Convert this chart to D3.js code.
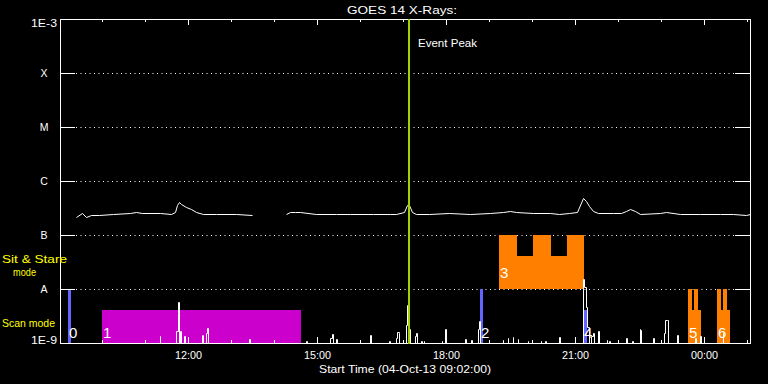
<!DOCTYPE html>
<html><head><meta charset="utf-8">
<script src="https://cdn.jsdelivr.net/npm/d3@7"></script>
<style>
html,body{margin:0;padding:0;background:#000;}
svg{display:block;}
</style></head><body>
<svg id="chart" width="768" height="384"></svg>
<script>
// ---------------- data ----------------
const chartTitle = "GOES 14 X-Rays:";
const startTimeLabel = "Start Time (04-Oct-13 09:02:00)";
const plotStart = "09:02";
const plotEnd = "01:04";
const yTickValues = [1e-9, 1e-8, 1e-7, 1e-6, 1e-5, 1e-4, 1e-3];
const yTickLabels = ["1E-9", "A", "B", "C", "M", "X", "1E-3"];
const gridLevels = [1e-8, 1e-7, 1e-6, 1e-5, 1e-4];
const xLabelTimes = ["12:00", "15:00", "18:00", "21:00", "00:00"];
const modeLabels = ["Sit & Stare", "mode", "Scan mode"];
const eventPeakTime = "17:08";
const eventPeakLabel = "Event Peak";

// GOES long channel (1-8 A) flux, W/m^2 (null = data gap)
const fluxTimes = ["09:25","09:32","09:38","09:45","09:57","10:16","10:39","10:48","10:57","11:21","11:37","11:42","11:45","11:48","11:51","11:58","12:05","12:12","12:21","12:40","13:08","13:29","13:50","14:17","14:22","14:29","14:36","14:59","15:27","15:46","16:18","16:42","16:51","17:02","17:06","17:09","17:13","17:19","17:37","18:05","18:33","19:01","19:19","19:29","19:38","20:01","20:25","20:38","20:52","21:03","21:11","21:16","21:20","21:25","21:32","21:53","22:04","22:11","22:17","22:23","22:30","22:58","23:07","23:26","23:54","00:22","00:40","00:59","01:04"];
const fluxValues = [2.17e-7,2.58e-7,2.17e-7,2.30e-7,2.37e-7,2.47e-7,2.53e-7,2.69e-7,2.61e-7,2.53e-7,2.43e-7,2.69e-7,3.67e-7,4.12e-7,3.83e-7,3.33e-7,2.97e-7,2.69e-7,2.47e-7,2.40e-7,2.43e-7,2.37e-7,null,2.42e-7,2.69e-7,2.72e-7,2.64e-7,2.50e-7,2.43e-7,2.47e-7,2.43e-7,2.40e-7,2.50e-7,2.69e-7,3.56e-7,3.56e-7,2.64e-7,2.47e-7,2.43e-7,2.53e-7,2.50e-7,2.53e-7,2.69e-7,2.76e-7,2.69e-7,2.58e-7,2.58e-7,2.47e-7,2.53e-7,2.72e-7,4.89e-7,4.23e-7,3.41e-7,2.76e-7,2.58e-7,2.58e-7,2.58e-7,2.84e-7,3.06e-7,2.76e-7,2.50e-7,2.53e-7,2.64e-7,2.43e-7,2.47e-7,2.43e-7,2.40e-7,2.33e-7,2.50e-7];

// GOES short channel (0.5-4 A) spikes above the 1E-9 floor, W/m^2
const shortTimes = ["11:21","11:44","11:46","11:47","11:50","11:55","12:20","12:25","12:27","13:26","14:45","15:19","15:21","15:27","16:14","16:41","16:51","16:52","16:54","17:05","17:06","17:09","17:17","17:19","17:26","17:29","17:54","17:59","18:27","18:35","18:45","18:46","19:19","19:26","19:33","19:40","19:54","20:12","20:18","20:38","21:11","21:13","21:15","21:17","21:19","21:23","21:25","21:32","21:44","21:48","22:11","22:20","22:30","22:31","22:49","23:04","23:06","23:08","23:22","23:48","23:54","00:26"];
const shortValues = [1.34e-9,1.65e-9,3.67e-9,5.79e-9,1.65e-9,1.34e-9,1.38e-9,1.50e-9,1.86e-9,1.21e-9,1.11e-9,1.26e-9,1.44e-9,1.21e-9,1.38e-9,1.11e-9,1.26e-9,1.58e-9,1.54e-9,2.20e-9,4.95e-9,1.78e-9,1.34e-9,1.50e-9,1.11e-9,1.11e-9,1.07e-9,1.83e-9,1.20e-9,1.16e-9,1.78e-9,2.53e-9,1.16e-9,1.25e-9,1.28e-9,1.20e-9,1.07e-9,1.07e-9,1.07e-9,1.30e-9,1.56e-8,1.07e-8,4.74e-9,2.02e-9,1.65e-9,1.34e-9,1.54e-9,1.65e-9,1.16e-9,1.11e-9,1.25e-9,1.11e-9,1.83e-9,1.73e-9,1.25e-9,1.54e-9,2.72e-9,2.72e-9,1.38e-9,1.26e-9,1.34e-9,1.54e-9];

// Observation blocks: id, program, base level, [start, end, top level] steps
const blockLabels = ["0", "1", "2", "3", "4", "5", "6"];
const blockPrograms = ["p1", "p2", "p1", "p3", "p1", "p3", "p3"];
const blockBase = [1e-9, 1e-9, 1e-9, 1e-8, 1e-9, 1e-9, 1e-9];
const blockSteps = [
  [["09:12:30", "09:17", 1e-8]],
  [["10:00", "14:38", 4.1e-9]],
  [["18:47:30", "18:51:30", 1e-8]],
  [["19:14", "19:39", 1e-7], ["19:39", "20:01:30", 4.1e-8], ["20:01:30", "20:26:30", 1e-7], ["20:26:30", "20:49", 4.1e-8], ["20:49", "21:12:30", 1e-7]],
  [["21:11", "21:16:40", 4.1e-9]],
  [["23:37:30", "23:43", 1e-8], ["23:43", "23:46:30", 4.1e-9], ["23:46:30", "23:51:30", 1e-8], ["23:51:30", "23:55:30", 4.1e-9]],
  [["00:18", "00:23:30", 1e-8], ["00:23:30", "00:26:30", 4.1e-9], ["00:26:30", "00:32", 1e-8], ["00:32", "00:36", 4.1e-9]]
];

// ---------------- drawing ----------------
const FONT = "'Liberation Sans', Arial, sans-serif";
const programColor = {p1: "#6464ff", p2: "#cc00cc", p3: "#ff8000"};

function toDate(s) {
  const p = s.split(":").map(Number);
  let mins = p[0] * 60 + p[1] + (p[2] || 0) / 60;
  if (mins < 542) mins += 1440;               // after midnight -> next day
  return new Date(new Date(2013, 9, 4).getTime() + mins * 60000);
}

const svg = d3.select("#chart");
svg.append("rect").attr("width", 768).attr("height", 384).attr("fill", "#000");

const t0 = toDate(plotStart), t1 = toDate(plotEnd);
const x = d3.scaleTime().domain([t0, t1]).range([60, 750]).interpolate(d3.interpolateRound);
const y = d3.scaleLog().domain([1e-9, 1e-3]).range([343, 19]).interpolate(d3.interpolateRound);
const X0 = x.range()[0], X1 = x.range()[1];
const tickLen = 15;

// dotted grid
svg.append("g").selectAll("line").data(gridLevels).join("line")
  .attr("x1", X0 + tickLen + 1).attr("x2", X1 - tickLen)
  .attr("y1", d => y(d) + 0.5).attr("y2", d => y(d) + 0.5)
  .attr("stroke", "#fff").attr("stroke-width", 1).attr("stroke-dasharray", "1,3.5");

// observation blocks
const gBlocks = svg.append("g").attr("shape-rendering", "crispEdges");
blockSteps.forEach((steps, i) => {
  gBlocks.append("g").selectAll("rect").data(steps).join("rect")
    .attr("x", s => x(toDate(s[0])))
    .attr("width", s => x(toDate(s[1])) - x(toDate(s[0])))
    .attr("y", s => y(s[2]))
    .attr("height", s => y(blockBase[i]) - y(s[2]))
    .attr("fill", programColor[blockPrograms[i]]);
});

// short channel spikes (histogram style)
const shortPts = [{t: t0, v: 1e-9}];
shortTimes.forEach((s, i) => {
  const t = toDate(s);
  shortPts.push({t, v: shortValues[i]});
  const next = i < shortTimes.length - 1 ? toDate(shortTimes[i + 1]) : null;
  if (!next || (next - t) > 2.5 * 60000) shortPts.push({t: new Date(+t + 60000), v: 1e-9});
});
shortPts.push({t: t1, v: 1e-9});
svg.append("path").datum(shortPts)
  .attr("transform", "translate(0.5,0.5)")
  .attr("d", d3.line().x(d => x(d.t)).y(d => y(d.v)).curve(d3.curveStepAfter))
  .attr("fill", "none").attr("stroke", "#fff").attr("stroke-width", 1);

// long channel flux
const fluxPts = fluxTimes.map((s, i) => ({t: toDate(s), v: fluxValues[i]}));
svg.append("path").datum(fluxPts)
  .attr("transform", "translate(0.5,0.5)")
  .attr("d", d3.line().defined(d => d.v != null).x(d => x(d.t)).y(d => y(d.v)))
  .attr("fill", "none").attr("stroke", "#fff").attr("stroke-width", 1);

// block labels
svg.append("g").selectAll("text").data(blockLabels).join("text")
  .attr("x", (d, i) => x(toDate(blockSteps[i][0][0])) + 1)
  .attr("y", (d, i) => y(blockBase[i]) - (blockBase[i] > 1e-9 ? 11 : 5))
  .attr("fill", "#fff").attr("font-family", FONT).attr("font-size", 15)
  .text(d => d);

// axes
function styleAxis(g) {
  g.attr("color", "#fff").attr("font-family", FONT).attr("font-size", 10.5)
   .attr("shape-rendering", "crispEdges");
}
const hourTicks = d3.timeHour.range(d3.timeHour.ceil(t0), t1);
const majorTicks = xLabelTimes.map(toDate);

svg.append("g").attr("transform", `translate(0,${y(1e-9)})`)
  .call(d3.axisBottom(x).tickValues(hourTicks).tickSizeInner(-3).tickSizeOuter(0).tickFormat(""))
  .call(styleAxis);
svg.append("g").attr("transform", `translate(0,${y(1e-9)})`)
  .call(d3.axisBottom(x).tickValues(majorTicks).tickSizeInner(-6).tickSizeOuter(0).tickPadding(8.5)
        .tickFormat((d, i) => xLabelTimes[i]))
  .call(styleAxis)
  .call(g => g.selectAll("text").attr("textLength", 27).attr("lengthAdjust", "spacingAndGlyphs"));
svg.append("g").attr("transform", `translate(0,${y(1e-3)})`)
  .call(d3.axisTop(x).tickValues(hourTicks).tickSizeInner(-3).tickSizeOuter(0).tickFormat(""))
  .call(styleAxis);
svg.append("g").attr("transform", `translate(0,${y(1e-3)})`)
  .call(d3.axisTop(x).tickValues(majorTicks).tickSizeInner(-6).tickSizeOuter(0).tickFormat(""))
  .call(styleAxis);

svg.append("g").attr("transform", `translate(${X0},0)`)
  .call(d3.axisLeft(y).tickValues(yTickValues).tickSizeInner(-tickLen).tickSizeOuter(0)
        .tickFormat((d, i) => yTickLabels[i]))
  .call(styleAxis)
  .call(g => g.selectAll("text")
    .attr("x", -16).attr("text-anchor", "middle")
    .attr("dy", d => d === 1e-3 ? "0.74em" : d === 1e-9 ? "0em" : "0.32em")
    .each(function(d) { if (d === 1e-3 || d === 1e-9) d3.select(this).attr("textLength", 26).attr("lengthAdjust", "spacingAndGlyphs"); }));
svg.append("g").attr("transform", `translate(${X1},0)`)
  .call(d3.axisRight(y).tickValues(yTickValues).tickSizeInner(-tickLen).tickSizeOuter(0).tickFormat(""))
  .call(styleAxis);

// event peak
const xe = x(toDate(eventPeakTime));
svg.append("line").attr("x1", xe).attr("x2", xe).attr("y1", y(1e-3)).attr("y2", y(1e-9) + 1)
  .attr("stroke", "#a0d400").attr("stroke-width", 2).attr("shape-rendering", "crispEdges");
svg.append("text").attr("x", xe + 9).attr("y", 47)
  .attr("fill", "#fff").attr("font-family", FONT).attr("font-size", 11.5)
  .attr("textLength", 59).attr("lengthAdjust", "spacingAndGlyphs").text(eventPeakLabel);

// titles
svg.append("text").attr("x", (X0 + X1) / 2 - 3).attr("y", 13.5).attr("text-anchor", "middle")
  .attr("fill", "#fff").attr("font-family", FONT).attr("font-size", 11.5)
  .attr("textLength", 110).attr("lengthAdjust", "spacingAndGlyphs").text(chartTitle);
svg.append("text").attr("x", (X0 + X1) / 2).attr("y", 372.5).attr("text-anchor", "middle")
  .attr("fill", "#fff").attr("font-family", FONT).attr("font-size", 11)
  .attr("textLength", 172).attr("lengthAdjust", "spacingAndGlyphs").text(startTimeLabel);

// mode labels (yellow)
const modeText = svg.append("g").attr("fill", "#ffff00").attr("font-family", FONT).attr("font-size", 11);
modeText.append("text").attr("x", 2).attr("y", 262.5).attr("textLength", 65).attr("lengthAdjust", "spacingAndGlyphs").text(modeLabels[0]);
modeText.append("text").attr("x", 13).attr("y", 275.5).attr("textLength", 23).attr("lengthAdjust", "spacingAndGlyphs").text(modeLabels[1]);
modeText.append("text").attr("x", 2).attr("y", 327.3).attr("textLength", 53).attr("lengthAdjust", "spacingAndGlyphs").text(modeLabels[2]);
</script>
</body></html>
